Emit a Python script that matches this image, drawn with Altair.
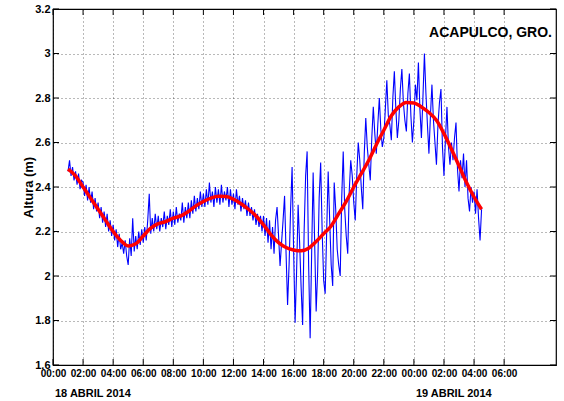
import altair as alt
import pandas as pd

# Hours since 2014-04-18 00:00
red_hours = [1.0, 1.5, 2.0, 2.5, 3.0, 3.5, 4.0, 4.5, 5.0, 5.5, 6.0, 6.5, 7.0, 7.5,
             8.0, 8.5, 9.0, 9.5, 10.0, 10.5, 11.0, 11.5, 12.0, 12.5, 13.0, 13.5,
             14.0, 14.5, 15.0, 15.5, 16.0, 16.5, 17.0, 17.5, 18.0, 18.5, 19.0,
             19.5, 20.0, 20.5, 21.0, 21.5, 22.0, 22.5, 23.0, 23.5, 24.0, 24.5,
             25.0, 25.5, 26.0, 26.5, 27.0, 27.5, 28.0, 28.5]
red_vals = [2.48, 2.45, 2.40, 2.35, 2.30, 2.25, 2.20, 2.16, 2.135, 2.145, 2.18,
            2.215, 2.235, 2.245, 2.26, 2.27, 2.29, 2.315, 2.335, 2.35, 2.358,
            2.357, 2.345, 2.325, 2.30, 2.27, 2.23, 2.185, 2.15, 2.128, 2.117,
            2.113, 2.125, 2.155, 2.19, 2.225, 2.28, 2.335, 2.40, 2.46, 2.52,
            2.59, 2.655, 2.72, 2.76, 2.78, 2.778, 2.76, 2.735, 2.70, 2.64,
            2.57, 2.495, 2.42, 2.355, 2.30]

# Observed sea level, one reading every 6 minutes from 01:00
blue_start = 1.0
blue_step = 0.1
blue_vals = [
    2.47, 2.52, 2.45, 2.49, 2.43, 2.47, 2.41, 2.46, 2.39, 2.43,
    2.42, 2.36, 2.41, 2.34, 2.40, 2.33, 2.38, 2.30, 2.35, 2.29,
    2.33, 2.26, 2.31, 2.24, 2.29, 2.22, 2.28, 2.20, 2.25, 2.18,
    2.23, 2.16, 2.21, 2.13, 2.19, 2.12, 2.15, 2.10, 2.16, 2.09,
    2.05, 2.17, 2.09, 2.26, 2.11, 2.18, 2.12, 2.20, 2.14, 2.21,
    2.15, 2.22, 2.16, 2.25, 2.37, 2.19, 2.26, 2.20, 2.28, 2.21,
    2.27, 2.20, 2.26, 2.22, 2.29, 2.21, 2.27, 2.23, 2.30, 2.22,
    2.29, 2.23, 2.31, 2.24, 2.28, 2.25, 2.33, 2.24, 2.31, 2.26,
    2.33, 2.26, 2.34, 2.28, 2.36, 2.29, 2.35, 2.30, 2.38, 2.31,
    2.37, 2.31, 2.39, 2.32, 2.42, 2.33, 2.38, 2.31, 2.40, 2.33,
    2.39, 2.32, 2.41, 2.33, 2.38, 2.34, 2.40, 2.31, 2.39, 2.32,
    2.37, 2.30, 2.39, 2.32, 2.36, 2.29, 2.35, 2.30, 2.34, 2.27,
    2.33, 2.27, 2.31, 2.25, 2.30, 2.23, 2.28, 2.22, 2.27, 2.20,
    2.27, 2.18, 2.26, 2.15, 2.25, 2.12, 2.22, 2.10, 2.25, 2.31,
    2.18, 2.045, 2.15, 2.25, 2.36, 2.10, 1.87, 2.05, 2.30, 2.49,
    2.12, 1.79, 2.02, 2.32, 2.15, 1.95, 1.78, 2.20, 2.45, 2.56,
    2.05, 1.72, 2.10, 2.465, 2.15, 1.84, 2.02, 2.35, 2.51, 2.20,
    1.98, 1.92, 2.20, 2.47, 2.25, 2.05, 1.955, 2.42, 2.30, 2.12,
    2.05, 2.00, 2.35, 2.56, 2.30, 2.18, 2.10, 2.38, 2.52, 2.45,
    2.33, 2.25, 2.45, 2.60, 2.52, 2.40, 2.30, 2.55, 2.71, 2.58,
    2.50, 2.43, 2.62, 2.76, 2.64, 2.55, 2.68, 2.80, 2.66, 2.58,
    2.62, 2.75, 2.88, 2.72, 2.68, 2.61, 2.80, 2.92, 2.75, 2.62,
    2.70, 2.84, 2.93, 2.78, 2.70, 2.65, 2.82, 2.91, 2.72, 2.60,
    2.70, 2.86, 2.79, 2.96, 2.75, 2.62, 2.80, 3.00, 2.82, 2.68,
    2.55, 2.72, 2.86, 2.70, 2.60, 2.50, 2.68, 2.78, 2.84, 2.58,
    2.45, 2.62, 2.76, 2.58, 2.50, 2.60, 2.52, 2.62, 2.69, 2.48,
    2.38, 2.52, 2.44, 2.55, 2.40, 2.52, 2.35, 2.29, 2.40, 2.33,
    2.38, 2.28, 2.39, 2.26, 2.16, 2.30,
]
blue_hours = [round(blue_start + i * blue_step, 2) for i in range(len(blue_vals))]

x_ticks = [0, 2, 4, 6, 8, 10, 12, 14, 16, 18, 20, 22, 24, 26, 28, 30]
y_ticks = [1.6, 1.8, 2.0, 2.2, 2.4, 2.6, 2.8, 3.0, 3.2]
x_domain = [0, 33.45]
y_domain = [1.6, 3.2]

date_hours = [0, 24]
date_labels = ["18 ABRIL 2014", "19 ABRIL 2014"]
station = "ACAPULCO, GRO."
y_title = "Altura (m)"

W, H = 503, 356
FONT = "Liberation Sans, Arial, sans-serif"

blue_df = pd.DataFrame({"h": blue_hours, "v": blue_vals})
red_df = pd.DataFrame({"h": red_hours, "v": red_vals})
xt_df = pd.DataFrame({"h": x_ticks})
yt_df = pd.DataFrame({"v": y_ticks})
date_df = pd.DataFrame({"h": date_hours, "label": date_labels})

xs = alt.Scale(domain=x_domain, nice=False, zero=False)
ys = alt.Scale(domain=y_domain, nice=False, zero=False)

x_axis = alt.Axis(
    values=x_ticks, title=None, ticks=False, domain=False, grid=True,
    labelExpr="(datum.value % 24 < 10 ? '0' : '') + (datum.value % 24) + ':00'",
    labelFont=FONT, labelFontSize=10, labelFontWeight="bold", labelColor="black",
    labelPadding=3, labelFlush=False, labelOverlap=False,
    gridColor="#000000", gridDash=[1, 3], gridOpacity=0.55, gridWidth=1,
)
y_axis = alt.Axis(
    values=y_ticks, title=y_title, ticks=False, domain=False, grid=True,
    format="~g", labelFont=FONT, labelFontSize=11, labelFontWeight="bold",
    labelColor="black", labelPadding=3, labelFlush=False, labelOverlap=False,
    titleFont=FONT, titleFontSize=13,
    titleFontWeight="bold", titleColor="black", titlePadding=-1,
    gridColor="#000000", gridDash=[1, 3], gridOpacity=0.55, gridWidth=1,
)

X = alt.X("h:Q", scale=xs, axis=x_axis)
Y = alt.Y("v:Q", scale=ys, axis=y_axis)

blue = alt.Chart(blue_df).mark_line(color="#0000ff", strokeWidth=1.1).encode(x=X, y=Y)
red = alt.Chart(red_df).mark_line(color="#ff0000", strokeWidth=3.5,
                                  interpolate="monotone").encode(x=X, y=Y)

tick_len = 6
bt = alt.Chart(xt_df).mark_rule(color="black", strokeWidth=1).encode(
    x=X, y=alt.value(H), y2=alt.value(H - tick_len))
tt = alt.Chart(xt_df).mark_rule(color="black", strokeWidth=1).encode(
    x=X, y=alt.value(0), y2=alt.value(tick_len))
lt = alt.Chart(yt_df).mark_rule(color="black", strokeWidth=1).encode(
    y=Y, x=alt.value(0), x2=alt.value(tick_len))
rt = alt.Chart(yt_df).mark_rule(color="black", strokeWidth=1).encode(
    y=Y, x=alt.value(W), x2=alt.value(W - tick_len))

dates = alt.Chart(date_df).mark_text(
    align="left", baseline="alphabetic", font=FONT, fontSize=11,
    fontWeight="bold", color="black", dx=2,
).encode(x=X, y=alt.value(H + 32), text="label:N")

title = alt.Chart(pd.DataFrame({"label": [station]})).mark_text(
    align="right", baseline="alphabetic", font=FONT, fontSize=14,
    fontWeight="bold", color="black",
).encode(x=alt.value(W - 4), y=alt.value(28), text="label:N")

chart = alt.layer(blue, red, bt, tt, lt, rt, dates, title).properties(
    width=W, height=H,
    autosize=alt.AutoSizeParams(type="none"),
    padding={"left": 53, "top": 9, "right": 8, "bottom": 36},
    background="white",
).configure_view(stroke="black", strokeWidth=1.2)

chart.save("out.html", embed_options={"renderer": "svg", "actions": False})
